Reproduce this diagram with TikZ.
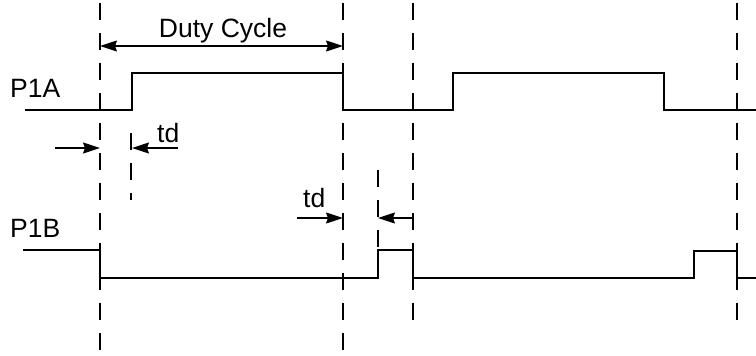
\documentclass[tikz,border=0pt]{standalone}
\usepackage{fontspec}
\setmainfont{Liberation Sans}
\usetikzlibrary{arrows.meta}

\begin{document}
\begin{tikzpicture}[
    x=1pt, y=-1pt,
    wave/.style={line width=1.4pt, line join=miter},
    guide/.style={line width=1.4pt, dash pattern=on 17pt off 13pt},
    dimarrow/.style={-{Stealth[length=17pt,width=11pt,inset=2pt]}, line width=1.2pt},
    dimboth/.style={{Stealth[length=17pt,width=11pt,inset=2pt]}-{Stealth[length=17pt,width=11pt,inset=2pt]}, line width=1.2pt},
    lbl/.style={font=\fontsize{26.5}{30}\selectfont, inner sep=0pt, anchor=base west}
]
    \useasboundingbox (0,0) rectangle (756,356);

    % dashed time marks
    \draw [guide] (100,3) -- (100,356);
    \draw [guide] (343,3) -- (343,356);
    \draw [guide] (413,3) -- (413,320);
    \draw [guide] (737,3) -- (737,320);
    \draw [guide] (131,133) -- (131,200);
    \draw [guide] (378,170) -- (378,250);

    % waveforms
    \draw [wave] (25,110) -| (132,73) -| (343,110) -| (453,73) -| (664,110) -- (756,110);
    \draw [wave] (23,250) -| (100,278) -| (378,250) -| (413,278) -| (694,251) -| (737,278) -- (756,278);

    % labels
    \node [lbl] (p1a) at (10,97) {P1A};
    \node [lbl] (p1b) at (10,237) {P1B};
    \node [lbl, anchor=base] (duty) at (223,37) {Duty Cycle};
    \node [lbl] (tdA) at (157,142) {td};
    \node [lbl] (tdB) at (303,207) {td};

    % dimension arrows
    \coordinate (dcL) at (100,46);
    \coordinate (dcR) at (343,46);
    \draw [dimboth] (dcL) -- (dcR);

    \coordinate (tdAl) at (55,148);
    \coordinate (tdAm) at (100,148);
    \coordinate (tdAr) at (178,148);
    \coordinate (tdAe) at (132,148);
    \draw [dimarrow] (tdAl) -- (tdAm);
    \draw [dimarrow] (tdAr) -- (tdAe);

    \coordinate (tdBl) at (297,218);
    \coordinate (tdBm) at (343,218);
    \coordinate (tdBr) at (413,218);
    \coordinate (tdBe) at (378,218);
    \draw [dimarrow] (tdBl) -- (tdBm);
    \draw [dimarrow] (tdBr) -- (tdBe);
\end{tikzpicture}
\end{document}
